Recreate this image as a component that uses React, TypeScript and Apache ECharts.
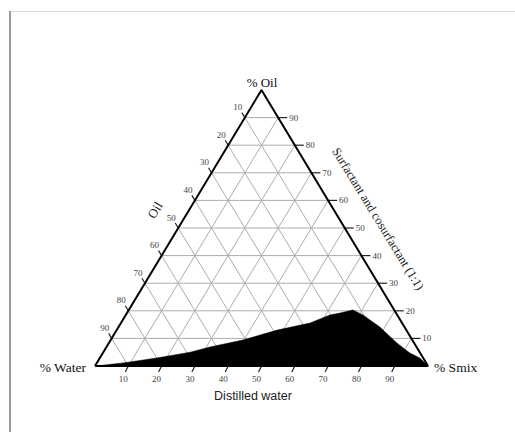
import React, { useEffect, useRef } from "react";
import * as echarts from "echarts";

// tick values (percent) along each axis
const ticks = [10, 20, 30, 40, 50, 60, 70, 80, 90];
// left edge labels (top to bottom, oil = 100 - label)
const leftLabels = ["10", "20", "30", "40", "50", "60", "70", "80", "90"];
// right edge labels (label = oil level)
const rightLabels = ["10", "20", "30", "40", "50", "60", "70", "80", "90"];
// bottom labels (left to right)
const bottomLabels = ["10", "20", "30", "40", "50", "60", "70", "80", "90"];

// black region boundary, in ternary percent (Smix, Oil); Water = 100 - Smix - Oil
const regionSmix = [0, 7.9, 17.1, 26.1, 31.1, 39.7, 48.2, 56.8, 61.3, 64.0, 67.3, 71.2, 78.5, 86.5, 92.2, 96.1, 100];
const regionOil = [0, 1.1, 2.9, 5.0, 6.9, 9.4, 13.0, 15.6, 18.5, 19.2, 20.3, 18.5, 14.1, 8.3, 4.7, 2.9, 0];

// triangle vertices in ternary percent (Smix, Oil)
const vertSmix = [0, 0, 100, 0];
const vertOil = [0, 100, 0, 0];

const toXY = (s: number, o: number) => [s + o / 2, o];

const SERIF = "'Liberation Serif', 'Times New Roman', serif";
const SANS = "'Liberation Sans', Arial, sans-serif";

export default function App() {
  const ref = useRef<HTMLDivElement>(null);
  useEffect(() => {
    const chart = echarts.init(ref.current!, null, { renderer: "svg" });
    const regionData = regionSmix.map((s, i) => toXY(s, regionOil[i]));
    const edgeData = vertSmix.map((s, i) => toXY(s, vertOil[i]));
    const gridColor = "#adadad";
    const tickColor = "#444";

    const renderItem = (params: any, api: any) => {
      const i = params.dataIndex;
      const v = api.value(0);
      const c = (s: number, o: number) => api.coord(toXY(s, o));
      const children: any[] = [];
      // horizontal (constant oil)
      const hA = c(0, v), hB = c(100 - v, v);
      children.push({ type: "line", shape: { x1: hA[0], y1: hA[1], x2: hB[0], y2: hB[1] }, style: { stroke: gridColor, lineWidth: 1 } });
      // constant smix (parallel to left edge)
      const sA = c(v, 0), sB = c(v, 100 - v);
      children.push({ type: "line", shape: { x1: sA[0], y1: sA[1], x2: sB[0], y2: sB[1] }, style: { stroke: gridColor, lineWidth: 1 } });
      // constant water (parallel to right edge)
      const wA = c(v, 0), wB = c(0, v);
      children.push({ type: "line", shape: { x1: wA[0], y1: wA[1], x2: wB[0], y2: wB[1] }, style: { stroke: gridColor, lineWidth: 1 } });
      // bottom tick and label
      const b = c(v, 0);
      children.push({ type: "line", shape: { x1: b[0], y1: b[1], x2: b[0] - 3, y2: b[1] + 6 }, style: { stroke: "#222", lineWidth: 1.2 } });
      children.push({ type: "text", style: { text: bottomLabels[i], x: b[0] - 5, y: b[1] + 13, align: "center", verticalAlign: "middle", fill: tickColor, font: `9px ${SERIF}` } });
      // right tick & label (oil = v)
      const r = c(100 - v, v);
      children.push({ type: "line", shape: { x1: r[0], y1: r[1], x2: r[0] + 9, y2: r[1] }, style: { stroke: "#222", lineWidth: 1.2 } });
      children.push({ type: "text", style: { text: rightLabels[i], x: r[0] + 11, y: r[1], align: "left", verticalAlign: "middle", fill: tickColor, font: `9px ${SERIF}` } });
      // left tick & label (oil = 100 - label)
      const l = c(0, 100 - v);
      children.push({ type: "line", shape: { x1: l[0], y1: l[1], x2: l[0] - 3, y2: l[1] - 5 }, style: { stroke: "#222", lineWidth: 1.2 } });
      children.push({ type: "text", style: { text: leftLabels[i], x: l[0] - 7, y: l[1] - 10.5, align: "center", verticalAlign: "middle", fill: tickColor, font: `9px ${SERIF}` } });
      return { type: "group", children };
    };

    chart.setOption({
      animation: false,
      grid: { left: 95, top: 90, width: 333, height: 276 },
      xAxis: { type: "value", min: 0, max: 100, show: false },
      yAxis: { type: "value", min: 0, max: 100, show: false },
      series: [
        {
          type: "custom",
          renderItem,
          data: ticks.map((t) => [t, 0]),
          z: 1,
          clip: false,
        },
        {
          type: "line",
          data: regionData,
          symbol: "none",
          lineStyle: { width: 0.5, color: "#000" },
          areaStyle: { color: "#000", opacity: 1 },
          z: 2,
        },
        {
          type: "line",
          data: edgeData,
          symbol: "none",
          lineStyle: { width: 2, color: "#000" },
          z: 3,
        },
      ],
      graphic: [
        { type: "line", shape: { x1: 10, y1: 11, x2: 10, y2: 432 }, style: { stroke: "#9a9a9a", lineWidth: 2 } },
        { type: "line", shape: { x1: 11, y1: 11.5, x2: 515, y2: 11.5 }, style: { stroke: "#dcdcdc", lineWidth: 1 } },
        { type: "text", x: 262, y: 82, style: { text: "% Oil", font: `13px ${SERIF}`, fill: "#111", align: "center", verticalAlign: "middle" } },
        { type: "text", x: 86, y: 367.5, style: { text: "% Water", font: `13.5px ${SERIF}`, fill: "#111", align: "right", verticalAlign: "middle" } },
        { type: "text", x: 434, y: 367.5, style: { text: "% Smix", font: `13.5px ${SERIF}`, fill: "#111", align: "left", verticalAlign: "middle" } },
        { type: "text", x: 253, y: 396, style: { text: "Distilled water", font: `12.5px ${SANS}`, fill: "#222", align: "center", verticalAlign: "middle" } },
        { type: "text", x: 155, y: 210, rotation: (59 * Math.PI) / 180, style: { text: "Oil", font: `13px ${SERIF}`, fill: "#222", align: "center", verticalAlign: "middle" } },
        { type: "text", x: 378, y: 219, rotation: (-58.5 * Math.PI) / 180, style: { text: "Surfactant and cosurfactant (1:1)", font: `12.5px ${SERIF}`, fill: "#222", align: "center", verticalAlign: "middle" } },
      ],
    });
    return () => chart.dispose();
  }, []);
  return <div ref={ref} style={{ position: "fixed", left: 0, top: 0, width: 515, height: 432, background: "#fff" }} />;
}
